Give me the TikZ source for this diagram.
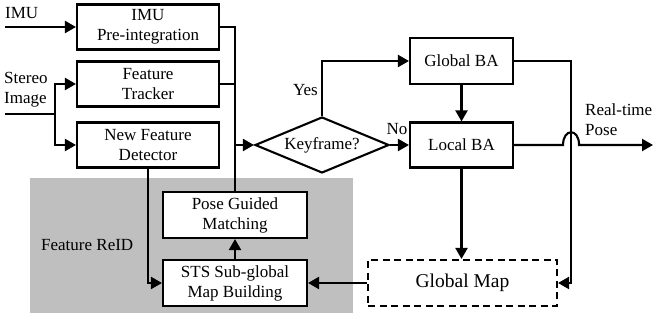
\documentclass[tikz,border=0pt]{standalone}
\usepackage{fontspec}
\setmainfont{Liberation Serif}
\usepackage{tikz}
\usetikzlibrary{arrows.meta, shapes.geometric, calc}
\definecolor{reidbg}{HTML}{BFBFBF}
\tikzset{
  blk/.style={draw, fill=white, align=center, line width=2.1pt, inner sep=0pt},
  dblk/.style={blk, dash pattern=on 7pt off 4.5pt},
  dec/.style={draw, fill=white, diamond, aspect=2.4, inner sep=0pt, line width=2.1pt},
  flow/.style={-{Triangle[length=11pt,width=12pt]}, line width=2.1pt},
  wire/.style={line width=2.1pt},
  lbl/.style={inner sep=0pt, align=left}
}

\begin{document}
\begin{tikzpicture}[x=1pt, y=1pt, font=\fontsize{17}{20}\selectfont]
\useasboundingbox (0,0) rectangle (653,320);
\fill[reidbg] (30,7) rectangle (353,142);

\node[blk, minimum width=142pt, minimum height=45pt] (imu) at (148,293) {IMU\\Pre-integration};
\node[blk, minimum width=142pt, minimum height=45pt] (trk) at (148,236) {Feature\\Tracker};
\node[blk, minimum width=142pt, minimum height=45pt] (nfd) at (148,175) {New Feature\\Detector};
\node[dec, minimum width=134pt, minimum height=56pt] (kf) at (322,175) {Keyframe?};
\node[blk, minimum width=103pt, minimum height=46pt] (gba) at (461.5,259) {Global BA};
\node[blk, minimum width=103pt, minimum height=45pt] (lba) at (461.5,175) {Local BA};
\node[blk, minimum width=144pt, minimum height=46pt] (pgm) at (235,105) {Pose Guided\\Matching};
\node[blk, minimum width=144pt, minimum height=46pt] (sts) at (235,37) {STS Sub-global\\Map Building};
\node[dblk, minimum width=189pt, minimum height=46pt, font=\fontsize{19.5}{22}\selectfont] (gmap) at (462.5,37) {Global Map};

\node[lbl, anchor=west] (imuin) at (5,307) {IMU};
\node[lbl, anchor=west] (stereo) at (4,230) {Stereo\\Image};
\node[lbl, anchor=west] (reid) at (41,75) {Feature ReID};
\node[lbl, anchor=east] (yes) at (318,230) {Yes};
\node[lbl] (no) at (397,191) {No};
\node[lbl, anchor=west] (pose) at (585,200) {Real-time\\Pose};

\coordinate (imusrc) at (5,293);
\coordinate (stsrc) at (5,206);
\coordinate (split) at (55,206);
\coordinate (poseout) at (653,175);

\draw[flow] (imusrc) -- (imu.west);
\draw[wire] (stsrc) -- (split);
\draw[flow] (split) |- (trk.west);
\draw[flow] (split) |- (nfd.west);
\draw[wire] (imu.east) -| (pgm.north);
\draw[wire] (trk.east) -- (trk.east -| pgm.north);
\draw[flow] (kf.west -| pgm.north) -- (kf.west);
\draw[flow] (kf.north) |- (gba.west);
\draw[flow] (kf.east) -- (lba.west);
\draw[flow] (gba.south) -- (lba.north);
\draw[flow] (gba.east) -- ++(57,0) |- (gmap.east);
\draw[flow] (lba.east) -- ++(49,0) to[out=90, in=90, distance=17pt] ++(16,0) -- (poseout);
\draw[flow] (lba.south) -- (lba.south |- gmap.north);
\draw[flow] (gmap.west) -- (sts.east);
\draw[flow] (sts.north) -- (pgm.south);
\draw[flow] (nfd.south) |- (sts.west);
\end{tikzpicture}
\end{document}
